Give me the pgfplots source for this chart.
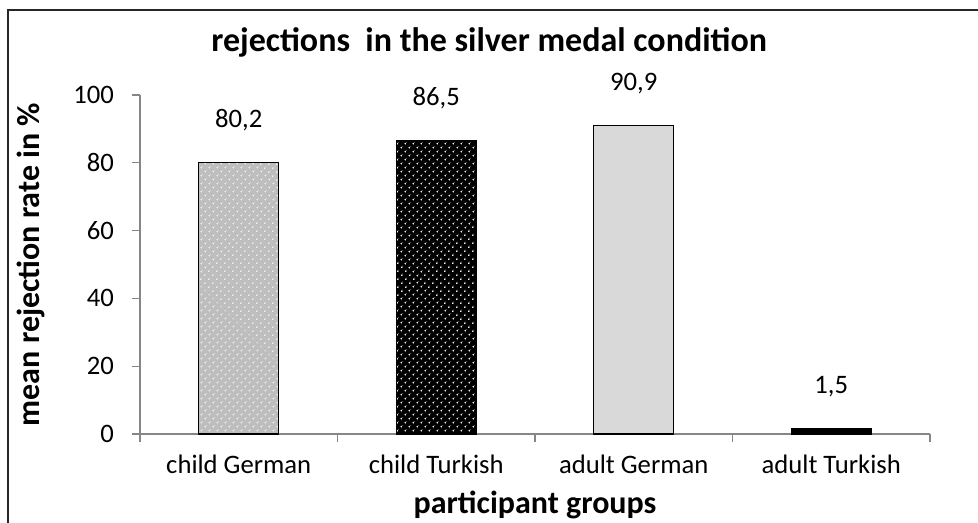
\documentclass[border=0pt]{standalone}
\usepackage{pgfplots}
\pgfplotsset{compat=1.18}
\usetikzlibrary{patterns,patterns.meta}
\usepackage{fontspec}
\setmainfont{Carlito}
\definecolor{axgray}{RGB}{134,134,134}
\definecolor{g1}{RGB}{190,190,190}
\definecolor{g3}{RGB}{217,217,217}
\begin{document}
\begin{tikzpicture}[x=0.75pt,y=0.75pt]
\useasboundingbox (-140,434-523) rectangle (978-140,434);
\draw[black!85,line width=1.3pt] (8-140,434-523) -- (8-140,434-10) -- (978-140,434-10);
\begin{axis}[
  at={(0,0)}, anchor=south west,
  scale only axis, width=592.5pt, height=254.25pt,
  xmin=-0.5, xmax=3.5, ymin=0, ymax=100,
  axis x line*=bottom, axis y line*=left,
  axis line style={axgray, line width=0.8pt},
  tick style={axgray, line width=0.8pt},
  ytick={0,20,...,100},
  tick align=outside,
  major tick length=6pt,
  xtick={0,1,2,3},
  xticklabels={child German, child Turkish, adult German, adult Turkish},
  x tick style={draw=none},
  extra x ticks={-0.5,0.5,1.5,2.5,3.5},
  extra x tick labels={},
  extra x tick style={x tick style={draw=axgray}, major tick length=6pt},
  ticklabel style={font=\fontsize{20pt}{24pt}\selectfont, text=black},
  y tick label style={xshift=-10pt},
  x tick label style={yshift=-6pt},
  /pgf/number format/assume math mode=true,
  ylabel={\bfseries mean rejection rate in \%},
  xlabel={\bfseries participant groups},
  label style={font=\fontsize{24pt}{28pt}\selectfont\bfseries},
  ylabel style={at={(axis description cs:0,0.5)}, anchor=south, yshift=68pt},
  xlabel style={yshift=6pt},
  title={rejections\ \ in the silver medal condition},
  title style={font=\fontsize{25.5pt}{30pt}\selectfont\bfseries, at={(0.442,1)}, anchor=south, yshift=19pt},
  ybar, bar width=60pt, bar shift=0pt,
  nodes near coords,
  nodes near coords style={font=\fontsize{20pt}{24pt}\selectfont, text=black, yshift=20pt, /pgf/number format/.cd, fixed, fixed zerofill, precision=1, use comma, assume math mode=true},
  clip=false,
]
\addplot[draw=black, line width=0.8pt, fill=g1, postaction={pattern={Dots[distance=4pt, radius=0.7pt, angle=45]}, pattern color=white}] coordinates {(0,80.2)};
\addplot[draw=black, line width=0.8pt, fill=black, postaction={pattern={Dots[distance=4pt, radius=0.8pt, angle=45]}, pattern color=white!85!gray}] coordinates {(1,86.5)};
\addplot[draw=black, line width=0.8pt, fill=g3] coordinates {(2,90.9)};
\addplot[draw=black, line width=0.8pt, fill=black] coordinates {(3,1.5)};
\end{axis}
\end{tikzpicture}
\end{document}
